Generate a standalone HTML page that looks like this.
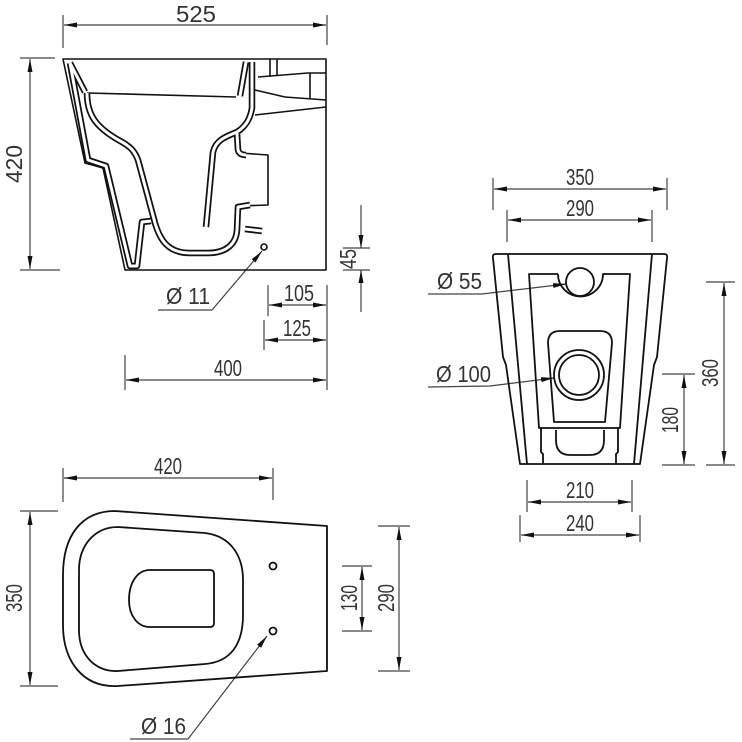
<!DOCTYPE html>
<html><head><meta charset="utf-8"><style>
html,body{margin:0;padding:0;background:#fff;}
svg{display:block;}
text{font-family:"Liberation Sans",sans-serif;font-size:23px;fill:#333;}
</style></head><body>
<svg width="742" height="742" viewBox="0 0 742 742" xmlns="http://www.w3.org/2000/svg">
<defs>
<marker id="a" markerUnits="userSpaceOnUse" markerWidth="13" markerHeight="6" refX="13" refY="3" orient="auto-start-reverse"><path d="M0,0.5L13,3L0,5.5z" fill="#111"/></marker>
</defs>
<g fill="none" stroke="#444" stroke-width="1.2">
<line x1="63" y1="15" x2="63" y2="48"/><line x1="327" y1="15" x2="327" y2="45"/>
<line x1="64" y1="25" x2="326" y2="25" marker-start="url(#a)" marker-end="url(#a)"/>
<line x1="20" y1="58" x2="55" y2="58"/><line x1="20" y1="270" x2="60" y2="270"/>
<line x1="30" y1="59" x2="30" y2="269" marker-start="url(#a)" marker-end="url(#a)"/>
<line x1="361" y1="205" x2="361" y2="248" marker-end="url(#a)"/><line x1="361" y1="270" x2="361" y2="312" marker-start="url(#a)"/>
<line x1="343" y1="248" x2="370" y2="248"/><line x1="343" y1="270" x2="370" y2="270"/>
<line x1="268" y1="285" x2="268" y2="316"/><line x1="327" y1="285" x2="327" y2="390"/>
<line x1="269" y1="305" x2="326" y2="305" marker-start="url(#a)" marker-end="url(#a)"/>
<line x1="264" y1="320" x2="264" y2="350"/>
<line x1="265" y1="340" x2="326" y2="340" marker-start="url(#a)" marker-end="url(#a)"/>
<line x1="125" y1="355" x2="125" y2="390"/>
<line x1="126" y1="380" x2="326" y2="380" marker-start="url(#a)" marker-end="url(#a)"/>
<polyline points="158,310 212,310 262,251" marker-end="url(#a)"/>
<line x1="493" y1="178" x2="493" y2="210"/><line x1="667" y1="178" x2="667" y2="210"/>
<line x1="494" y1="189" x2="666" y2="189" marker-start="url(#a)" marker-end="url(#a)"/>
<line x1="507" y1="210" x2="507" y2="242"/><line x1="652" y1="210" x2="652" y2="242"/>
<line x1="508" y1="220" x2="651" y2="220" marker-start="url(#a)" marker-end="url(#a)"/>
<line x1="706" y1="282" x2="735" y2="282"/><line x1="706" y1="465" x2="735" y2="465"/>
<line x1="724" y1="283" x2="724" y2="464" marker-start="url(#a)" marker-end="url(#a)"/>
<line x1="662" y1="374" x2="695" y2="374"/><line x1="662" y1="465" x2="695" y2="465"/>
<line x1="684" y1="375" x2="684" y2="464" marker-start="url(#a)" marker-end="url(#a)"/>
<line x1="527" y1="480" x2="527" y2="512"/><line x1="632" y1="480" x2="632" y2="512"/>
<line x1="528" y1="502" x2="631" y2="502" marker-start="url(#a)" marker-end="url(#a)"/>
<line x1="520" y1="515" x2="520" y2="542"/><line x1="640" y1="515" x2="640" y2="542"/>
<line x1="521" y1="535" x2="639" y2="535" marker-start="url(#a)" marker-end="url(#a)"/>
<polyline points="428,294 482,294 566,284" marker-end="url(#a)"/>
<polyline points="428,387 490,386 554,378" marker-end="url(#a)"/>
<line x1="63" y1="468" x2="63" y2="502"/><line x1="273" y1="468" x2="273" y2="500"/>
<line x1="64" y1="478" x2="272" y2="478" marker-start="url(#a)" marker-end="url(#a)"/>
<line x1="20" y1="511" x2="58" y2="511"/><line x1="20" y1="686" x2="58" y2="686"/>
<line x1="30" y1="512" x2="30" y2="685" marker-start="url(#a)" marker-end="url(#a)"/>
<line x1="342" y1="566" x2="372" y2="566"/><line x1="342" y1="631" x2="372" y2="631"/>
<line x1="362" y1="567" x2="362" y2="630" marker-start="url(#a)" marker-end="url(#a)"/>
<line x1="378" y1="526" x2="410" y2="526"/><line x1="378" y1="671" x2="410" y2="671"/>
<line x1="399" y1="527" x2="399" y2="670" marker-start="url(#a)" marker-end="url(#a)"/>
<polyline points="130,739 188,739 267,636" marker-end="url(#a)"/>
</g>

<g fill="none" stroke="#111" stroke-width="1.6" stroke-linejoin="round">
<path d="M63,59 L326,59 L326,270 L125,270 L103,168 L85,163 Z"/>
<line x1="87" y1="93" x2="236" y2="97"/>
<line x1="258" y1="77" x2="308" y2="73"/><line x1="308" y1="73" x2="326" y2="73"/>
<polyline points="255,90 285,97 326,100"/>
<line x1="255" y1="115" x2="326" y2="107"/>
<line x1="270" y1="59" x2="270" y2="77"/><line x1="277" y1="59" x2="277" y2="75"/>
<line x1="310" y1="73" x2="310" y2="98"/>
<polyline points="240,153 268,155 268,205 240,206"/>
<circle cx="264" cy="247" r="3"/>
</g>
<g fill="none" stroke="#111" stroke-width="6.5" stroke-linejoin="round">
<path d="M70,63 L88,160 L106,166 L130,266 L137,266 L142,222 L151,221"/>
<path d="M70,63 L85,92"/>
<path d="M87,93 C87,115 96,128 122,142 C131,147 135,152 138,160 L155,223 C160,240 168,253 190,253 L208,253 C225,253 236,245 237,230 L238,207 L250,205"/>
<path d="M240,96 L246,62"/><path d="M252,62 L252,108 C250,120 245,127 237,132 C225,137 216,140 213,152 L206,227"/>
<path d="M237,133 L238,150 C239,154 242,155 246,155"/>
<path d="M245,229 L262,231"/>
</g>
<g fill="none" stroke="#fff" stroke-width="3" stroke-linejoin="round">
<path d="M70,63 L88,160 L106,166 L130,266 L137,266 L142,222 L151,221"/>
<path d="M70,63 L85,92"/>
<path d="M87,93 C87,115 96,128 122,142 C131,147 135,152 138,160 L155,223 C160,240 168,253 190,253 L208,253 C225,253 236,245 237,230 L238,207 L250,205"/>
<path d="M240,96 L246,62"/><path d="M252,62 L252,108 C250,120 245,127 237,132 C225,137 216,140 213,152 L206,227"/>
<path d="M237,133 L238,150 C239,154 242,155 246,155"/>
<path d="M245,229 L262,231"/>
</g>

<g fill="none" stroke="#111" stroke-width="1.8" stroke-linejoin="round">
<path d="M496,254 L664,254 Q668,254 667,258 L657,357 L654,365 L640,464 L520,464 L506,365 L503,357 L493,258 Q492,254 496,254 Z"/>
<line x1="508" y1="254" x2="527" y2="464"/><line x1="652" y1="254" x2="634" y2="464"/>
<path d="M558,274 L529,274 L539,428 L620,428 L630,274 L603,274 A21,21 0 0 1 558,274"/>
<circle cx="580" cy="282" r="14"/>
<path d="M560,331 L600,331 Q612,331 612,343 L605,422 L554,422 L548,343 Q548,331 560,331 Z"/>
<circle cx="579" cy="375" r="25"/><circle cx="579" cy="375" r="20"/>
<path d="M541,428 L541,452 L543,454 L543,464"/><path d="M618,428 L618,452 L616,454 L616,464"/>
<path d="M556,430 L556,440 Q556,455 570,455 L590,455 Q604,455 604,440 L604,430"/>
</g>

<g fill="none" stroke="#111" stroke-width="1.8" stroke-linejoin="round">
<path d="M115,511 L327,526 L327,671 L118,686 C82,688 63,660 63,625 L63,575 C63,535 82,511 115,511 Z"/>
<path d="M118,527 L205,533 C230,536 243,555 243,580 L243,615 C243,645 230,662 205,664 L118,671 C95,672 79,655 79,630 L79,570 C79,545 95,527 118,527 Z"/>
<path d="M150,570 L210,570 Q214,570 214,574 L214,623 Q214,627 210,627 L150,627 C137,627 129,615 129,600 C129,583 137,570 150,570 Z"/>
<circle cx="273" cy="566" r="3.5"/><circle cx="273" cy="631" r="3.5"/>
</g>

<text x="196" y="22" text-anchor="middle" textLength="40" lengthAdjust="spacingAndGlyphs">525</text>
<text transform="translate(22,164) rotate(-90)" text-anchor="middle" textLength="38" lengthAdjust="spacingAndGlyphs">420</text>
<text transform="translate(356,259) rotate(-90)" text-anchor="middle" textLength="20" lengthAdjust="spacingAndGlyphs">45</text>
<text x="299" y="301" text-anchor="middle" textLength="30" lengthAdjust="spacingAndGlyphs">105</text>
<text x="297" y="336" text-anchor="middle" textLength="28" lengthAdjust="spacingAndGlyphs">125</text>
<text x="228" y="376" text-anchor="middle" textLength="28" lengthAdjust="spacingAndGlyphs">400</text>
<text x="166" y="304" textLength="44" lengthAdjust="spacingAndGlyphs">Ø 11</text>
<text x="580" y="185" text-anchor="middle" textLength="28" lengthAdjust="spacingAndGlyphs">350</text>
<text x="580" y="216" text-anchor="middle" textLength="28" lengthAdjust="spacingAndGlyphs">290</text>
<text x="437" y="289" textLength="45" lengthAdjust="spacingAndGlyphs">Ø 55</text>
<text x="436" y="382" textLength="55" lengthAdjust="spacingAndGlyphs">Ø 100</text>
<text transform="translate(718,373) rotate(-90)" text-anchor="middle" textLength="28" lengthAdjust="spacingAndGlyphs">360</text>
<text transform="translate(678,420) rotate(-90)" text-anchor="middle" textLength="26" lengthAdjust="spacingAndGlyphs">180</text>
<text x="580" y="498" text-anchor="middle" textLength="28" lengthAdjust="spacingAndGlyphs">210</text>
<text x="580" y="531" text-anchor="middle" textLength="28" lengthAdjust="spacingAndGlyphs">240</text>
<text x="168" y="474" text-anchor="middle" textLength="28" lengthAdjust="spacingAndGlyphs">420</text>
<text transform="translate(22,598) rotate(-90)" text-anchor="middle" textLength="28" lengthAdjust="spacingAndGlyphs">350</text>
<text transform="translate(357,598) rotate(-90)" text-anchor="middle" textLength="26" lengthAdjust="spacingAndGlyphs">130</text>
<text transform="translate(394,598) rotate(-90)" text-anchor="middle" textLength="28" lengthAdjust="spacingAndGlyphs">290</text>
<text x="141" y="734" textLength="45" lengthAdjust="spacingAndGlyphs">Ø 16</text>
</svg>
</body></html>
